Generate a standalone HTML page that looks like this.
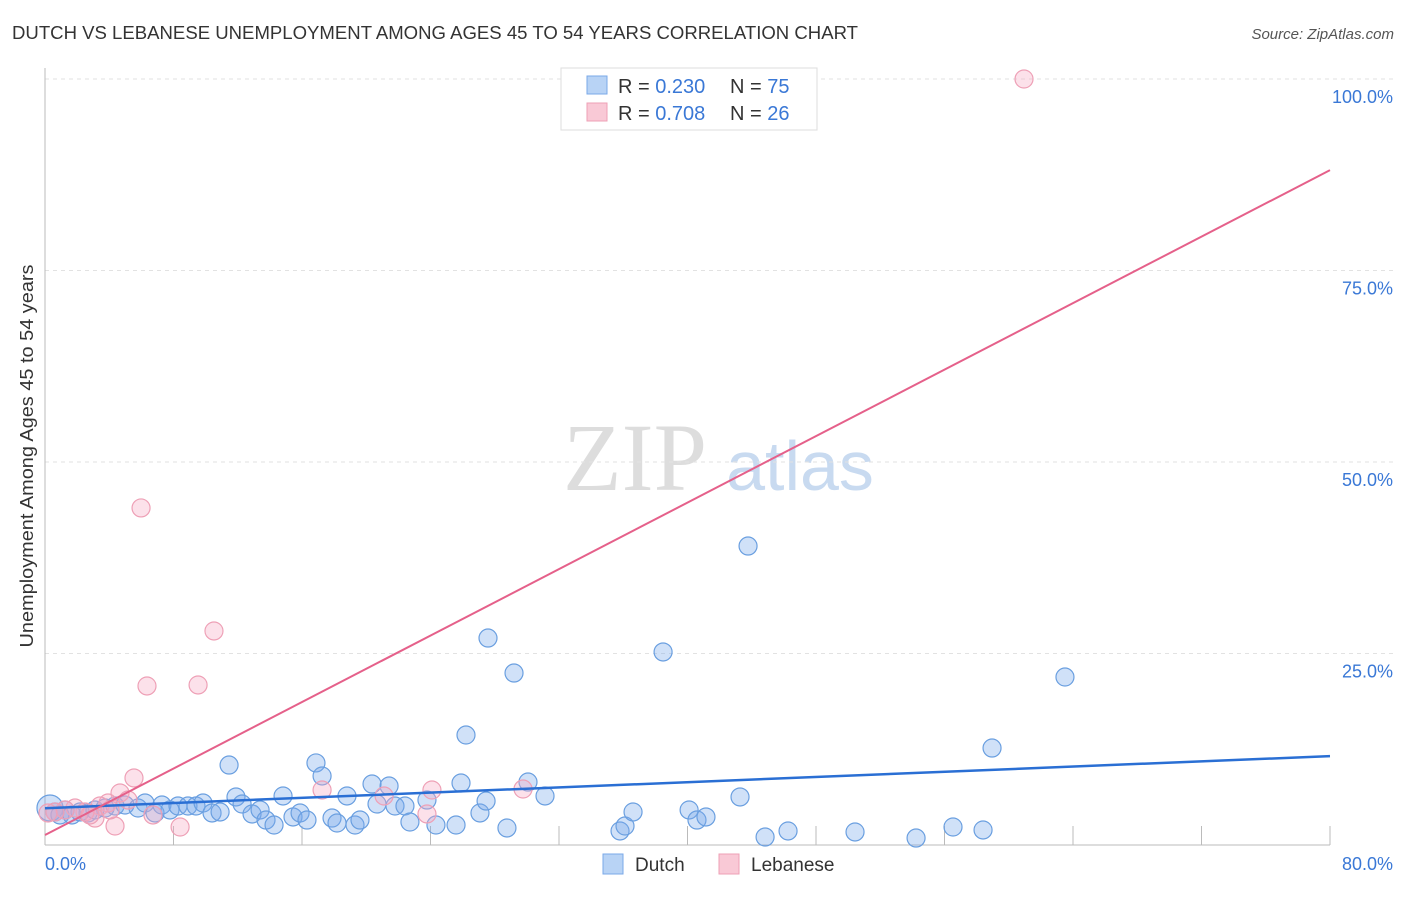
<!DOCTYPE html>
<html><head><meta charset="utf-8"><style>
body{margin:0;background:#fff;font-family:"Liberation Sans",sans-serif;}
</style></head><body>
<svg id="c" width="1406" height="892" xmlns="http://www.w3.org/2000/svg" font-family="Liberation Sans, sans-serif">
<text x="12" y="39" font-size="18" fill="#333" textLength="846" lengthAdjust="spacingAndGlyphs">DUTCH VS LEBANESE UNEMPLOYMENT AMONG AGES 45 TO 54 YEARS CORRELATION CHART</text>
<text x="1394" y="39" font-size="15" fill="#555" text-anchor="end" font-style="italic">Source: ZipAtlas.com</text>
<text x="33" y="456" font-size="18" fill="#333" text-anchor="middle" textLength="383" lengthAdjust="spacingAndGlyphs" transform="rotate(-90 33 456)">Unemployment Among Ages 45 to 54 years</text>
<text x="635" y="490" font-size="96" fill="#ddd" font-family="Liberation Serif, serif" text-anchor="middle">ZIP</text>
<text x="800" y="490" font-size="70" fill="#c8daf0" text-anchor="middle">atlas</text>
<g id="grid"></g><g id="marks"></g>
<g>
<rect x="561" y="68" width="256" height="62" fill="#fff" stroke="#ddd"/>
<rect x="587" y="76" width="20" height="18" fill="#b8d3f5" stroke="#7aa8e8"/>
<text x="618" y="93" font-size="20" fill="#333">R = <tspan fill="#3a78d6">0.230</tspan></text>
<text x="730" y="93" font-size="20" fill="#333">N = <tspan fill="#3a78d6">75</tspan></text>
<rect x="587" y="103" width="20" height="18" fill="#f9c9d6" stroke="#eea0b6"/>
<text x="618" y="120" font-size="20" fill="#333">R = <tspan fill="#3a78d6">0.708</tspan></text>
<text x="730" y="120" font-size="20" fill="#333">N = <tspan fill="#3a78d6">26</tspan></text>
</g>
<g>
<rect x="603" y="854" width="20" height="20" fill="#b8d3f5" stroke="#7aa8e8"/>
<text x="635" y="871" font-size="19" fill="#333">Dutch</text>
<rect x="719" y="854" width="20" height="20" fill="#f9c9d6" stroke="#eea0b6"/>
<text x="751" y="871" font-size="19" fill="#333">Lebanese</text>
</g>
</svg>
<script>
const xTicks=[0,8,16,24,32,40,48,56,64,72,80];
const yTicks=[25,50,75,100];
const dutchX=[0.31,0.62,0.93,1.25,1.68,2.18,2.68,3.11,3.74,4.36,4.98,5.79,6.23,6.85,7.28,7.78,8.28,8.90,9.40,9.84,10.40,10.90,11.46,11.89,12.27,12.89,13.39,13.76,14.26,14.82,15.44,15.88,16.31,16.87,17.25,17.87,18.18,18.80,19.30,19.61,20.36,20.67,21.42,21.79,22.41,22.72,23.78,24.34,25.59,25.90,26.21,27.08,27.46,27.58,28.76,29.20,30.07,31.13,35.80,36.11,36.61,38.48,40.10,40.59,41.15,43.27,43.77,44.83,46.26,50.43,54.23,56.53,58.40,58.96,63.50];
const dutchY=[4.83,4.31,3.92,4.57,3.92,4.31,4.18,4.57,4.83,5.09,5.22,4.83,5.48,4.18,5.22,4.57,5.09,5.09,5.09,5.48,4.18,4.31,10.44,6.27,5.35,4.05,4.57,3.26,2.61,6.40,3.66,4.18,3.26,10.71,9.01,3.52,2.87,6.40,2.61,3.26,7.96,5.35,7.70,5.09,5.09,3.00,5.87,2.61,2.61,8.09,14.36,4.18,5.74,27.02,2.22,22.45,8.22,6.40,1.83,2.48,4.31,25.20,4.57,3.26,3.66,6.27,39.03,1.04,1.83,1.70,0.91,2.35,1.96,12.66,21.93];
const lebX=[60.95,5.98,10.52,6.35,9.53,5.54,4.67,5.17,3.92,3.42,4.36,8.41,6.72,3.11,2.49,1.87,1.25,0.62,17.25,21.11,24.09,23.78,29.76,0.19,4.05,2.80];
const lebY=[100.0,44.0,27.94,20.76,20.89,8.75,6.79,5.87,5.48,5.09,2.48,2.35,3.92,3.52,4.31,4.83,4.57,4.31,7.18,6.40,7.18,4.05,7.31,4.18,4.57,3.92];
const dutchTrend=[4.8,11.6];
const lebTrend=[1.3,88.1];
const NS="http://www.w3.org/2000/svg";
const X=v=>45+v/80*1285, Y=v=>845-v/100*766;
function mk(t,a,p){const e=document.createElementNS(NS,t);for(const k in a)e.setAttribute(k,a[k]);p.appendChild(e);return e;}
const g=document.getElementById('grid'),m=document.getElementById('marks');
yTicks.forEach(t=>{
 const l=mk('line',{x1:45,x2:1395,y1:Y(t),y2:Y(t),stroke:'#e2e2e2','stroke-dasharray':'4,4'},g);
 
 
 const tx=mk('text',{x:1393,y:Y(t)+24,'font-size':18,fill:'#3a78d6','text-anchor':'end'},g);tx.textContent=t.toFixed(1)+'%';
 
 
});
const ax=mk('line',{x1:45,x2:45,y1:68,y2:845,stroke:'#bbb'},g);


const bx=mk('line',{x1:45,x2:1330,y1:845,y2:845,stroke:'#bbb'},g);


xTicks.forEach(t=>{const l=mk('line',{x1:X(t),x2:X(t),y1:826,y2:845,stroke:'#bbb'},g);
 
 });
[[0,'start',45],[80,'end',1393]].forEach(([v,a,x])=>{const t=mk('text',{x:x,y:870,'font-size':18,fill:'#3a78d6','text-anchor':a},g);t.textContent=v.toFixed(1)+'%';
 
 });
dutchX.forEach((v,i)=>{const c=mk('circle',{cx:X(v),cy:Y(dutchY[i]),r:i==0?13:9,fill:'rgba(120,170,235,0.35)',stroke:'#6a9fe0','stroke-width':1.2},m);
 
 });
lebX.forEach((v,i)=>{const c=mk('circle',{cx:X(v),cy:Y(lebY[i]),r:9,fill:'rgba(245,170,195,0.35)',stroke:'#eea0b6','stroke-width':1.2},m);
 
 });
const t1=mk('line',{x1:X(0),x2:X(80),y1:Y(dutchTrend[0]),y2:Y(dutchTrend[1]),stroke:'#2a6fd4','stroke-width':2.5},m);


const t2=mk('line',{x1:X(0),x2:X(80),y1:Y(lebTrend[0]),y2:Y(lebTrend[1]),stroke:'#e5608a','stroke-width':2},m);


</script>
</body></html>
